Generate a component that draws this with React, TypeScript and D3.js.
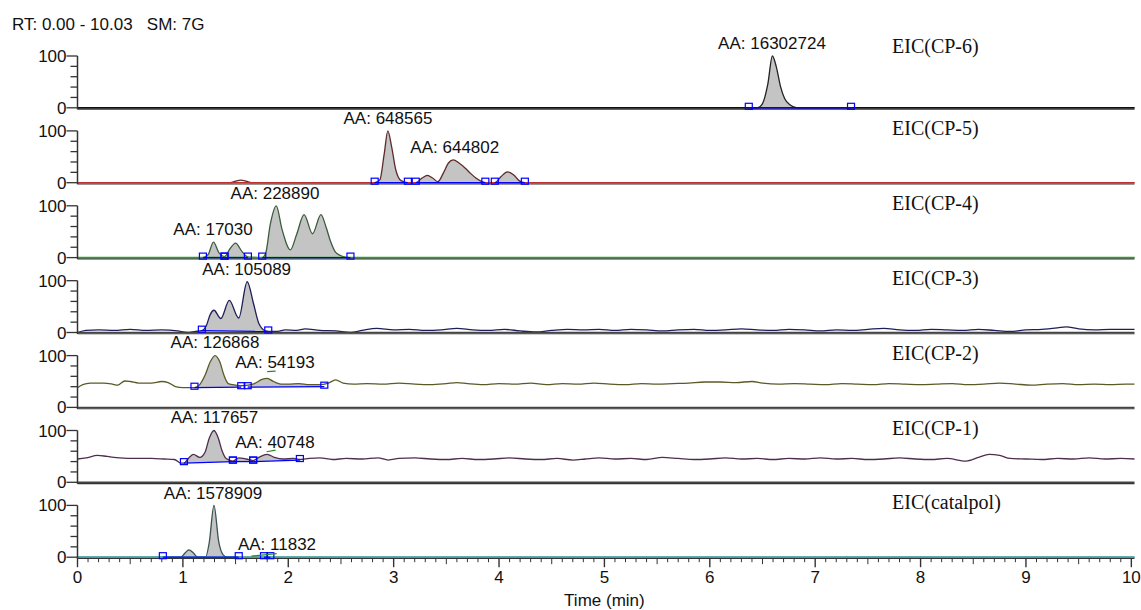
import React from 'react';
import * as d3 from 'd3';

type Pt = [number, number];
// peak integration: [startTime, startBase, endTime, endBase]
type Peak = [number, number, number, number];
type Label = [string, number, number];

const rtLabel = 'RT: 0.00 - 10.03   SM: 7G';
const xTitle = 'Time (min)';
const rtRange: [number, number] = [0, 10.03];

const cp6: Pt[] = [[0,0],[6.37,0],[6.45,0],[6.5,8],[6.55,45],[6.594,100],[6.63,80],[6.67,42],[6.71,18],[6.76,6],[6.83,0],[7.34,0],[10.03,0]];
const cp6Peaks: Peak[] = [[6.37,0,7.34,0]];
const cp6Labels: Label[] = [['AA: 16302724', 6.59, 100]];

const cp5: Pt[] = [[0,0],[1.45,0],[1.5,3],[1.55,5],[1.6,3],[1.65,0],[2.82,0],[2.87,6],[2.91,55],[2.945,100],[2.98,70],[3.02,25],[3.07,4],[3.135,0],[3.21,0],[3.27,9],[3.32,14],[3.37,9],[3.42,2],[3.47,18],[3.52,38],[3.566,44],[3.62,38],[3.68,28],[3.73,18],[3.78,9],[3.84,2],[3.87,0],[3.96,0],[4.02,12],[4.08,21],[4.14,15],[4.19,4],[4.245,0],[10.03,0]];
const cp5Peaks: Peak[] = [[2.82,0,3.135,0],[3.21,0,3.87,0],[3.96,0,4.245,0]];
const cp5Labels: Label[] = [['AA: 648565', 2.946, 100], ['AA: 644802', 3.58, 44]];

const cp4: Pt[] = [[0,0],[1.19,0],[1.24,6],[1.29,30],[1.34,10],[1.395,2],[1.45,18],[1.5,28],[1.56,12],[1.617,1],[1.753,0],[1.785,8],[1.83,65],[1.886,100],[1.94,55],[2.02,15],[2.08,45],[2.15,83],[2.23,46],[2.31,83],[2.36,58],[2.4,32],[2.45,10],[2.52,2],[2.59,0],[10.03,0]];
const cp4Peaks: Peak[] = [[1.19,0,1.395,0],[1.395,0,1.617,0],[1.753,0,2.59,0]];
const cp4Labels: Label[] = [['AA: 17030', 1.286, 30], ['AA: 228890', 1.874, 100]];

const cp3: Pt[] = [[0,0],[0.08,4],[0.2,5],[0.35,4],[0.5,6],[0.65,4],[0.8,5],[0.95,3],[1.04,0],[1.12,2],[1.18,3.5],[1.22,12],[1.26,35],[1.295,43],[1.36,27],[1.44,62],[1.53,28],[1.61,98],[1.67,56],[1.72,18],[1.785,3],[1.81,2],[1.9,2],[1.97,5],[2.08,4],[2.16,7],[2.3,4],[2.45,3],[2.59,0],[2.7,4],[2.84,8],[3.0,5],[3.15,6],[3.3,4],[3.45,5],[3.6,8],[3.75,5],[3.9,4],[4.05,6],[4.2,3],[4.35,1],[4.5,4],[4.65,6],[4.8,5],[4.95,6],[5.1,4],[5.25,6],[5.4,5],[5.55,3],[5.7,5],[5.85,6],[6.0,4],[6.15,5],[6.3,7],[6.45,5],[6.6,4],[6.75,6],[6.9,5],[7.05,3],[7.2,5],[7.35,4],[7.5,6],[7.65,8],[7.8,5],[7.95,4],[8.1,6],[8.25,5],[8.4,4],[8.55,6],[8.7,4],[8.85,2],[9.0,5],[9.15,6],[9.3,9],[9.38,11],[9.5,7],[9.65,5],[9.8,6],[10.03,6]];
const cp3Peaks: Peak[] = [[1.18,3.5,1.81,2]];
const cp3Labels: Label[] = [['AA: 105089', 1.605, 98]];

const cp2: Pt[] = [[0,38],[0.05,44],[0.12,47],[0.25,47],[0.33,45],[0.38,43],[0.45,51],[0.5,50],[0.58,47],[0.7,47],[0.8,50],[0.86,48],[0.93,40],[1.0,38],[1.11,38],[1.16,44],[1.21,62],[1.26,88],[1.305,100],[1.35,88],[1.39,62],[1.43,46],[1.5,43],[1.554,42],[1.615,43],[1.68,46],[1.75,54],[1.8,56],[1.86,50],[1.93,45],[2.0,45],[2.1,46],[2.2,44],[2.3,44],[2.38,47],[2.45,53],[2.52,47],[2.62,45],[2.75,46],[2.9,45],[3.05,47],[3.2,45],[3.35,44],[3.5,46],[3.6,48],[3.7,46],[3.85,44],[4.0,46],[4.15,45],[4.3,47],[4.45,44],[4.6,46],[4.75,45],[4.9,47],[5.05,45],[5.2,44],[5.35,46],[5.5,45],[5.65,46],[5.8,47],[5.95,49],[6.1,49],[6.25,48],[6.4,50],[6.5,47],[6.65,45],[6.8,46],[6.95,45],[7.1,44],[7.25,46],[7.4,45],[7.55,44],[7.7,46],[7.85,45],[8.0,44],[8.15,45],[8.3,46],[8.45,44],[8.6,45],[8.75,47],[8.9,45],[9.05,43],[9.2,45],[9.35,46],[9.5,44],[9.65,45],[9.8,44],[9.95,45],[10.03,45]];
const cp2Peaks: Peak[] = [[1.11,38,1.554,39],[1.615,39,2.342,40]];
const cp2Labels: Label[] = [['AA: 126868', 1.305, 101], ['AA: 54193', 1.874, 63]];
const cp2Leaders: Peak[] = [[1.8,69,1.88,70]];

const cp1: Pt[] = [[0,45],[0.08,47],[0.19,52],[0.28,50],[0.4,47],[0.55,46],[0.7,46],[0.82,45],[0.92,44],[0.98,37],[1.01,37],[1.06,48],[1.1,54],[1.16,48],[1.21,58],[1.25,85],[1.295,100],[1.335,86],[1.37,62],[1.41,46],[1.475,41],[1.53,47],[1.6,45],[1.667,42],[1.72,48],[1.8,54],[1.87,48],[1.95,45],[2.05,46],[2.11,44],[2.2,46],[2.3,47],[2.42,44],[2.55,46],[2.7,45],[2.85,47],[2.95,43],[3.05,46],[3.2,47],[3.35,45],[3.5,44],[3.65,46],[3.8,44],[3.95,45],[4.1,47],[4.25,45],[4.4,44],[4.55,46],[4.7,43],[4.82,45],[4.95,47],[5.1,45],[5.25,46],[5.4,44],[5.55,48],[5.7,46],[5.85,44],[6.0,45],[6.15,47],[6.3,45],[6.45,46],[6.6,44],[6.75,46],[6.9,45],[7.05,47],[7.2,45],[7.35,46],[7.5,44],[7.65,45],[7.8,47],[7.95,45],[8.1,44],[8.25,46],[8.43,41],[8.55,48],[8.65,54],[8.75,52],[8.85,46],[9.0,45],[9.15,44],[9.3,46],[9.45,45],[9.6,47],[9.75,45],[9.9,46],[10.03,45]];
const cp1Peaks: Peak[] = [[1.01,37,1.475,40],[1.475,40,1.667,40],[1.667,40,2.11,43]];
const cp1Labels: Label[] = [['AA: 117657', 1.3, 101], ['AA: 40748', 1.874, 52]];
const cp1Leaders: Peak[] = [[1.795,59,1.88,62]];

const catalpol: Pt[] = [[0,0],[0.81,0],[0.98,0],[1.02,8],[1.057,14],[1.1,8],[1.14,0],[1.215,0],[1.25,28],[1.295,100],[1.34,30],[1.38,5],[1.42,0],[10.03,0]];
const catPeaks: Peak[] = [[0.81,0,1.53,0],[1.77,0,1.83,0]];
const catLabels: Label[] = [['AA: 1578909', 1.286, 99], ['AA: 11832', 1.893, 0]];
const catLeaders: Peak[] = [[1.65,2,1.89,7]];

const panels = [
  { name: 'EIC(CP-6)', trace: cp6, peaks: cp6Peaks, labels: cp6Labels, leaders: [] as Peak[], color: '#222222', axis: '#111111' },
  { name: 'EIC(CP-5)', trace: cp5, peaks: cp5Peaks, labels: cp5Labels, leaders: [] as Peak[], color: '#5e2a2a', axis: '#c03030' },
  { name: 'EIC(CP-4)', trace: cp4, peaks: cp4Peaks, labels: cp4Labels, leaders: [] as Peak[], color: '#3c5c3c', axis: '#2aa02a' },
  { name: 'EIC(CP-3)', trace: cp3, peaks: cp3Peaks, labels: cp3Labels, leaders: [] as Peak[], color: '#1e1e5a', axis: '#444444' },
  { name: 'EIC(CP-2)', trace: cp2, peaks: cp2Peaks, labels: cp2Labels, leaders: cp2Leaders, color: '#5a5a28', axis: '#444444' },
  { name: 'EIC(CP-1)', trace: cp1, peaks: cp1Peaks, labels: cp1Labels, leaders: cp1Leaders, color: '#4e2e4e', axis: '#444444' },
  { name: 'EIC(catalpol)', trace: catalpol, peaks: catPeaks, labels: catLabels, leaders: catLeaders, color: '#3a5252', axis: '#20b0b0' },
];

const X0 = 77.5, X1 = 1134.5;
const TOP0 = 56, STEP = 74.9, PH = 51.8;
const sans = '"Liberation Sans", Arial, sans-serif';
const serif = '"Liberation Serif", "Times New Roman", serif';

export default function App() {
  const x = d3.scaleLinear().domain(rtRange).range([X0, X1]);
  const lastBottom = TOP0 + STEP * (panels.length - 1) + PH;
  const xt = x.ticks(100);

  return (
    <svg width={1141} height={610} style={{ position: 'absolute', left: 0, top: 0, background: '#fff' }}>
      <text x={12} y={30} fontFamily={sans} fontSize={17} fill="#111" xmlSpace="preserve" style={{ whiteSpace: 'pre' }}>{rtLabel}</text>
      {panels.map((p, i) => {
        const top = TOP0 + STEP * i;
        const y = d3.scaleLinear().domain([0, 100]).range([top + PH, top]);
        const line = d3.line<Pt>().x(d => x(d[0])).y(d => y(d[1])).curve(d3.curveMonotoneX);
        return (
          <g key={p.name}>
            {p.peaks.map((pk, k) => {
              const base = d3.scaleLinear().domain([pk[0], pk[2]]).range([pk[1], pk[3]]);
              const pts = p.trace.filter(d => d[0] >= pk[0] && d[0] <= pk[2]);
              const area = d3.area<Pt>()
                .x(d => x(d[0]))
                .y0(d => y(base(d[0])))
                .y1(d => y(Math.max(d[1], base(d[0]))))
                .curve(d3.curveMonotoneX);
              return <path key={k} d={area(pts) || ''} fill="#c4c4c4" stroke="none" />;
            })}
            <path d={line(p.trace) || ''} fill="none" stroke={p.color} strokeWidth={1.3} />
            <line x1={X0} x2={X1} y1={y(0) + 1.3} y2={y(0) + 1.3} stroke="#333" strokeWidth={1.1} />
            <line x1={X0} x2={X1} y1={y(0)} y2={y(0)} stroke={p.axis} strokeWidth={1.5} />
            {p.peaks.map((pk, k) => (
              <line key={'b' + k} x1={x(pk[0])} x2={x(pk[2])} y1={y(pk[1])} y2={y(pk[3])} stroke="#0000ff" strokeWidth={1.3} />
            ))}
            {p.peaks.flatMap((pk, k) => [[pk[0], pk[1]], [pk[2], pk[3]]].map((m, j) => (
              <rect key={'m' + k + '-' + j} x={x(m[0]) - 3.5} y={y(m[1]) - 4.5} width={7} height={6} fill="none" stroke="#0000ff" strokeWidth={1.2} />
            )))}
            {p.leaders.map((l, k) => (
              <line key={'l' + k} x1={x(l[0])} x2={x(l[2])} y1={y(l[1])} y2={y(l[3])} stroke="#2a8a2a" strokeWidth={1.2} />
            ))}
            {p.labels.map((lb, k) => (
              <text key={'t' + k} x={x(lb[1])} y={y(lb[2]) - 7} textAnchor="middle" fontFamily={sans} fontSize={17} fill="#111">{lb[0]}</text>
            ))}
            <text x={892} y={i === 0 ? top - 3 : top + 4} fontFamily={serif} fontSize={20} fill="#111">{p.name}</text>
            <line x1={X0} x2={X0} y1={y(0) + 1.5} y2={y(100)} stroke="#333" strokeWidth={1.5} />
            {y.ticks(5).map(t => {
              const major = t === 0 || t === 100;
              return (
                <g key={'y' + t}>
                  <line x1={X0 - (major ? 11 : 7)} x2={X0} y1={y(t)} y2={y(t)} stroke="#333" strokeWidth={1.3} />
                  {major && (
                    <text x={X0 - 11} y={y(t) + 6} textAnchor="end" fontFamily={sans} fontSize={17} fill="#111">{t}</text>
                  )}
                </g>
              );
            })}
          </g>
        );
      })}
      {xt.map(t => {
        const k = Math.round(t * 10);
        const major = k % 10 === 0;
        const len = major ? 9 : k % 5 === 0 ? 6 : 4;
        return (
          <g key={'x' + k}>
            <line x1={x(t)} x2={x(t)} y1={lastBottom + 1} y2={lastBottom + 1 + len} stroke="#333" strokeWidth={major ? 1.4 : 1} />
            {major && (
              <text x={x(t)} y={lastBottom + 26} textAnchor="middle" fontFamily={sans} fontSize={17} fill="#111">{k / 10}</text>
            )}
          </g>
        );
      })}
      <text x={x(5)} y={606} textAnchor="middle" fontFamily={sans} fontSize={17} fill="#111">{xTitle}</text>
    </svg>
  );
}
